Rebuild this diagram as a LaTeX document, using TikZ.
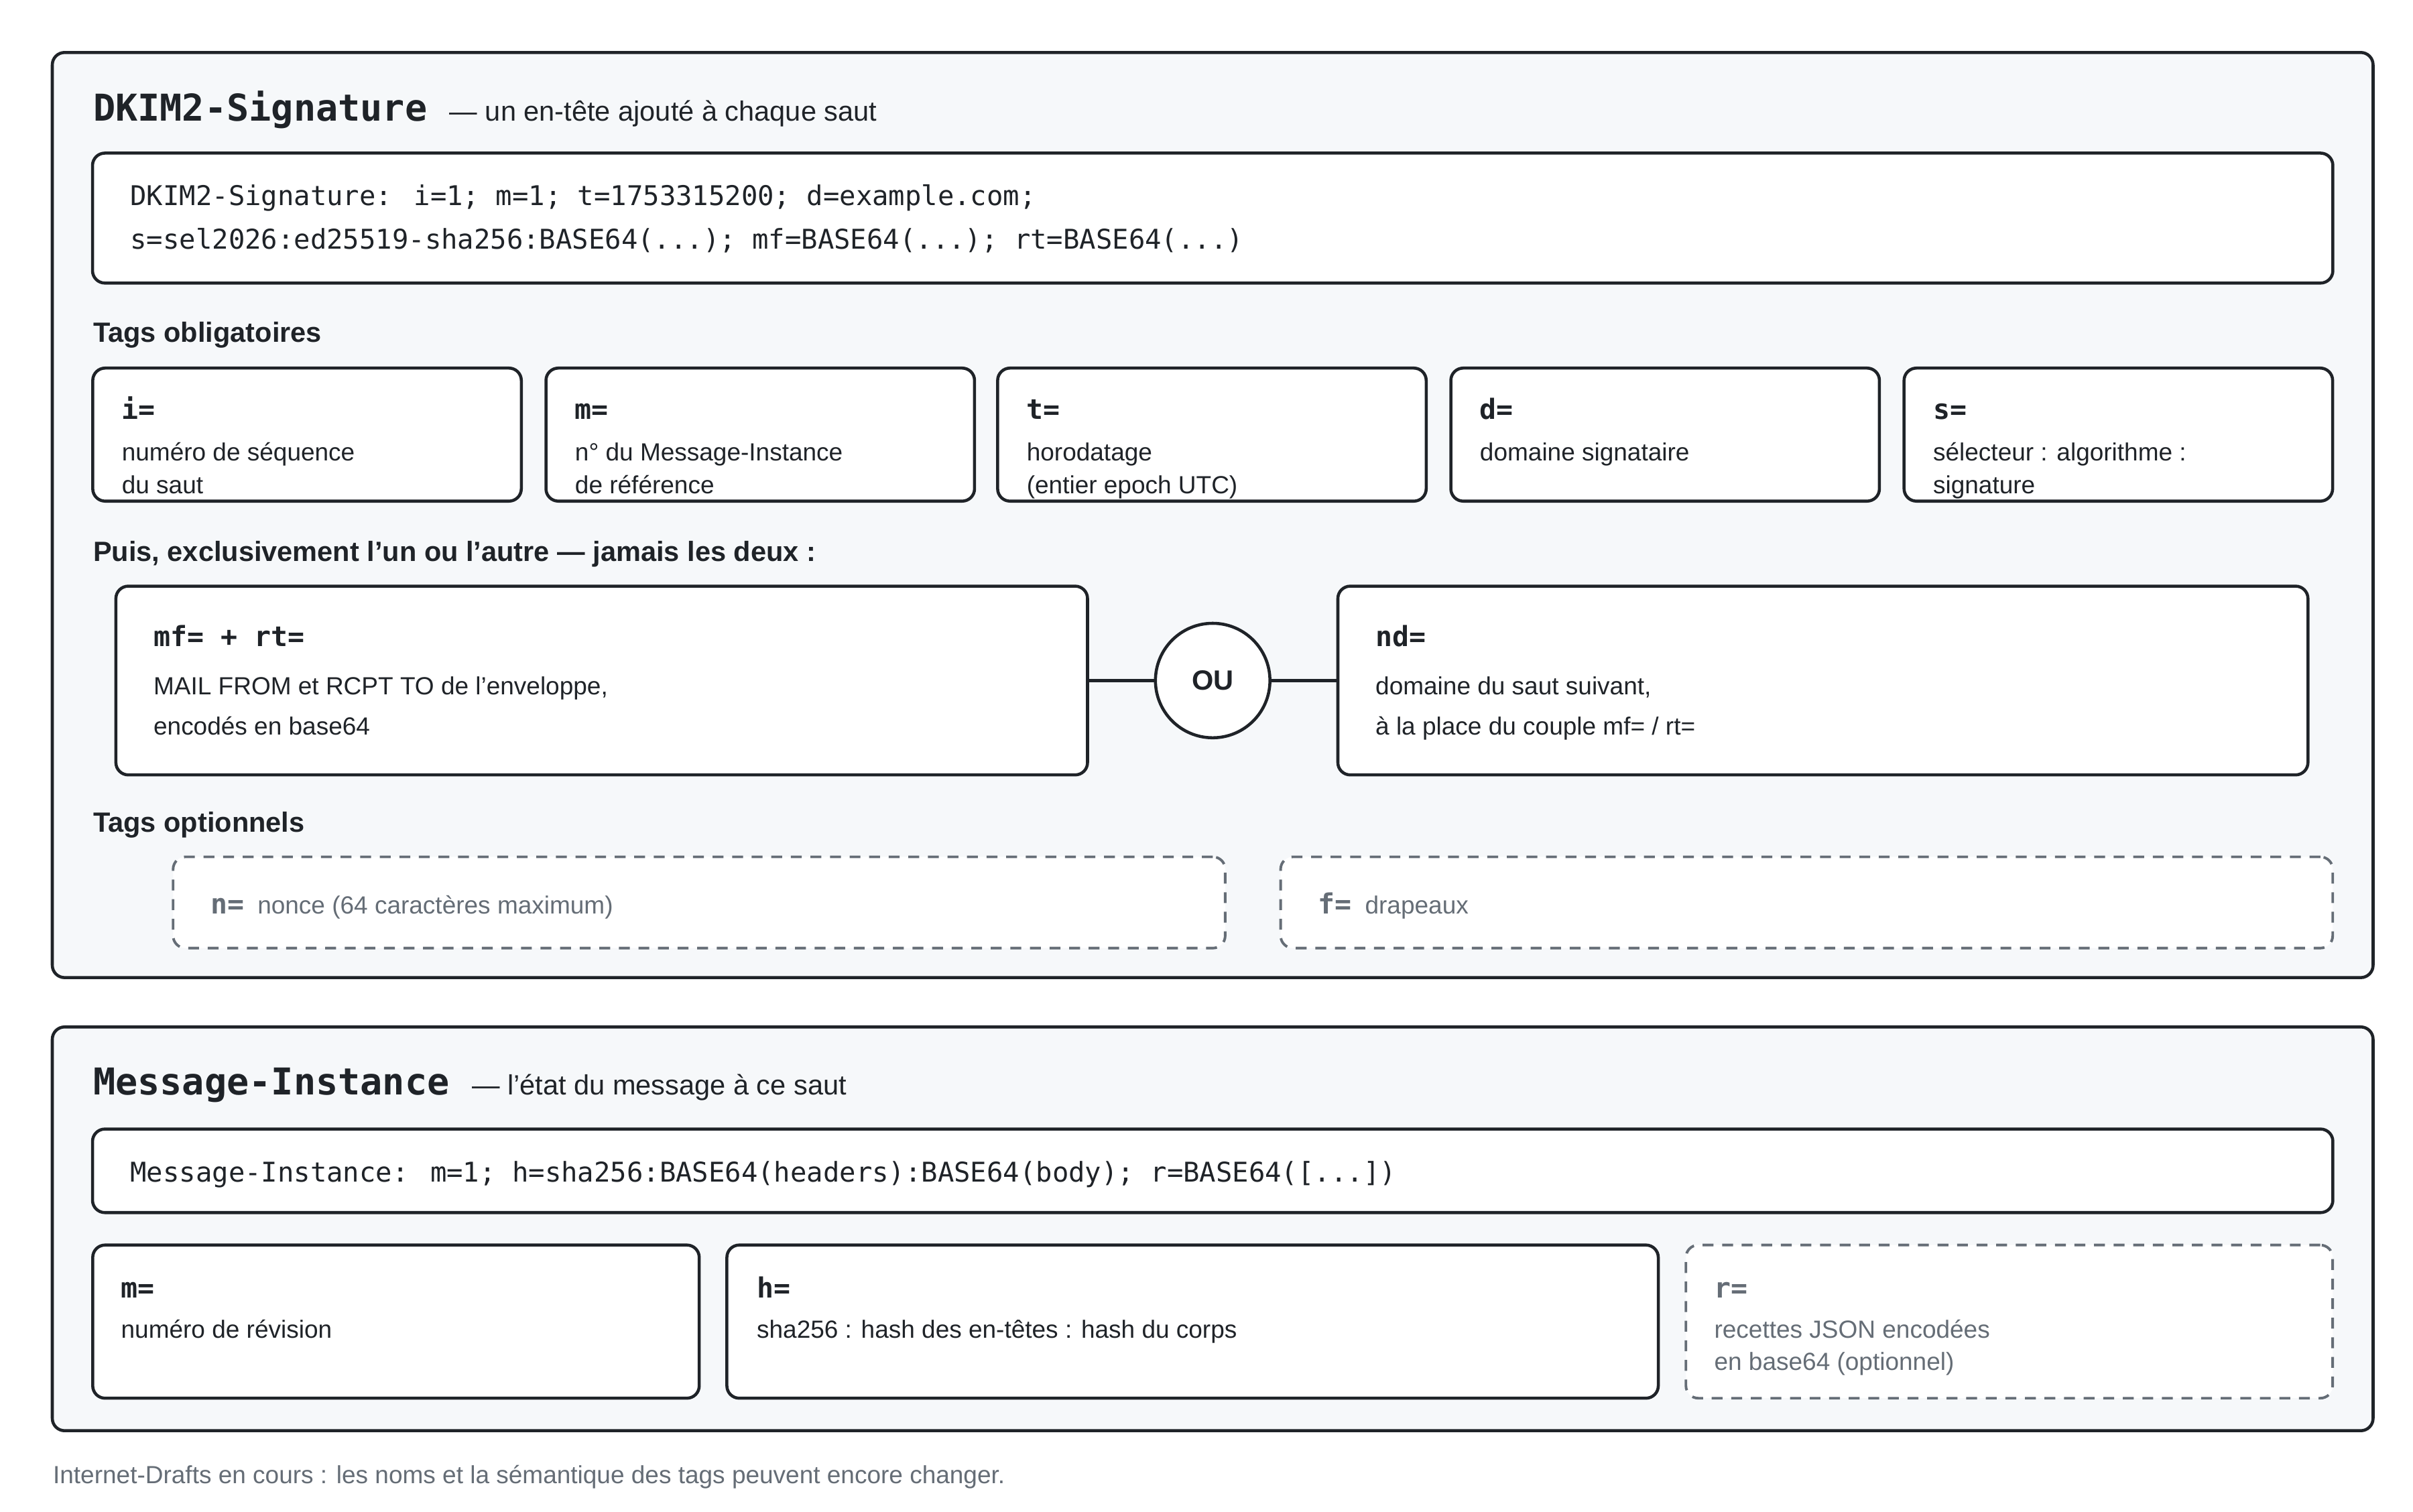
\documentclass[tikz,border=0pt]{standalone}
\usepackage{fontspec}
\setmainfont{Liberation Sans}
\newfontfamily\codefont{DejaVu Sans Mono}
\usepackage{xcolor}
\usetikzlibrary{positioning}
\definecolor{inkdark}{HTML}{1F2328}
\definecolor{panelbg}{HTML}{F6F8FA}
\definecolor{softgray}{HTML}{656D76}

\tikzset{
  panel/.style={draw=inkdark, line width=1.4pt, fill=panelbg, rounded corners=0.2cm},
  box/.style={draw=inkdark, line width=1.4pt, fill=white, rounded corners=0.2cm},
  optbox/.style={draw=softgray, line width=1.2pt, dashed, dash pattern=on 5pt off 4pt, fill=white, rounded corners=0.2cm},
  txt/.style={anchor=base west, inner sep=0pt, text=inkdark, font=\fontsize{11.4}{13}\selectfont},
  head/.style={txt, font=\fontsize{12.8}{15}\selectfont\bfseries},
  code/.style={txt, font=\codefont\fontsize{12.5}{15}\selectfont},
  tag/.style={txt, font=\codefont\bfseries\fontsize{12.8}{15}\selectfont},
}

\begin{document}
\begin{tikzpicture}[x=0.025cm, y=-0.025cm]
\useasboundingbox[fill=white] (0,0) rectangle (1560,977.6);

% DKIM2-Signature panel
\node[panel, minimum width=37.5cm, minimum height=14.95cm] (sigpanel) at (784,333) {};
\node[tag, font=\codefont\bfseries\fontsize{17}{20}\selectfont] (sigtitle) at (60,78) {DKIM2-Signature};
\node[txt, font=\fontsize{12.8}{15}\selectfont, right=0.35cm of sigtitle.base east, anchor=base west] (sigsub) {— un en-tête ajouté à chaque saut};

\node[box, minimum width=36.2cm, minimum height=2.1cm] (sigcode) at (784,141) {};
\node[code] (sigline1) at (84,133) {DKIM2-Signature: i=1; m=1; t=1753315200; d=example.com;};
\node[code] (sigline2) at (84,161) {s=sel2026:ed25519-sha256:BASE64(...); mf=BASE64(...); rt=BASE64(...)};

\node[head] (obligtitle) at (60,221) {Tags obligatoires};

\foreach \cx/\nm/\lab/\la/\lb in {
  198.5/tagi/i=/numéro de séquence/du saut,
  491.5/tagm/m=/n° du Message-Instance/de référence,
  783.5/tagt/t=/horodatage/(entier epoch UTC),
  1076.5/tagd/d=/domaine signataire/,
  1369.5/tags/s=/sélecteur : algorithme :/signature}{
  \node[box, minimum width=6.925cm, minimum height=2.15cm] (\nm) at (\cx,281) {};
  \node[tag] (\nm-key) at (\cx-120,271) {\lab};
  \node[txt] (\nm-la) at (\cx-120,298) {\la};
  \node[txt] (\nm-lb) at (\cx-120,319) {\lb};
}

\node[head] (choicetitle) at (60,363) {Puis, exclusivement l'un ou l'autre — jamais les deux :};

\node[box, minimum width=15.7cm, minimum height=3.05cm] (mfrt) at (389,440) {};
\node[tag] (mfrt-key) at (99,418) {mf= + rt=};
\node[txt] (mfrt-la) at (99,449) {MAIL FROM et RCPT TO de l'enveloppe,};
\node[txt] (mfrt-lb) at (99,475) {encodés en base64};

\node[box, minimum width=15.675cm, minimum height=3.05cm] (nd) at (1178.5,440) {};
\node[tag] (nd-key) at (889,418) {nd=};
\node[txt] (nd-la) at (889,449) {domaine du saut suivant,};
\node[txt] (nd-lb) at (889,475) {à la place du couple mf= / rt=};

\node[circle, draw=inkdark, line width=1.4pt, fill=white, minimum size=1.85cm, inner sep=0pt,
  font=\fontsize{12.8}{15}\selectfont\bfseries, text=inkdark] (ou) at (784,440) {OU};
\draw[inkdark, line width=1.4pt] (mfrt.east) -- (ou.west);
\draw[inkdark, line width=1.4pt] (ou.east) -- (nd.west);

\node[head] (opttitle) at (60,538) {Tags optionnels};

\node[optbox, minimum width=17cm, minimum height=1.475cm] (tagn) at (452,583.5) {};
\node[tag, text=softgray] (tagn-key) at (136,591) {n=};
\node[txt, text=softgray, right=0.2cm of tagn-key.base east, anchor=base west] (tagn-la) {nonce (64 caractères maximum)};

\node[optbox, minimum width=17cm, minimum height=1.475cm] (tagf) at (1168,583.5) {};
\node[tag, text=softgray] (tagf-key) at (852,591) {f=};
\node[txt, text=softgray, right=0.2cm of tagf-key.base east, anchor=base west] (tagf-la) {drapeaux};

% Message-Instance panel
\node[panel, minimum width=37.5cm, minimum height=6.525cm] (mipanel) at (784,794.5) {};
\node[tag, font=\codefont\bfseries\fontsize{17}{20}\selectfont] (mititle) at (60,708) {Message-Instance};
\node[txt, font=\fontsize{12.8}{15}\selectfont, right=0.35cm of mititle.base east, anchor=base west] (misub) {— l'état du message à ce saut};

\node[box, minimum width=36.2cm, minimum height=1.35cm] (micode) at (784,757) {};
\node[code] (miline) at (84,764) {Message-Instance: m=1; h=sha256:BASE64(headers):BASE64(body); r=BASE64([...])};

\node[box, minimum width=9.8cm, minimum height=2.475cm] (mim) at (256,854.5) {};
\node[tag] (mim-key) at (78,839) {m=};
\node[txt] (mim-la) at (78,865) {numéro de révision};

\node[box, minimum width=15.05cm, minimum height=2.475cm] (mih) at (771,854.5) {};
\node[tag] (mih-key) at (489,839) {h=};
\node[txt] (mih-la) at (489,865) {sha256 : hash des en-têtes : hash du corps};

\node[optbox, minimum width=10.45cm, minimum height=2.475cm] (mir) at (1299,854.5) {};
\node[tag, text=softgray] (mir-key) at (1108,839) {r=};
\node[txt, text=softgray] (mir-la) at (1108,865) {recettes JSON encodées};
\node[txt, text=softgray] (mir-lb) at (1108,886) {en base64 (optionnel)};

\node[txt, text=softgray] (footnote) at (34,959) {Internet-Drafts en cours : les noms et la sémantique des tags peuvent encore changer.};
\end{tikzpicture}
\end{document}
